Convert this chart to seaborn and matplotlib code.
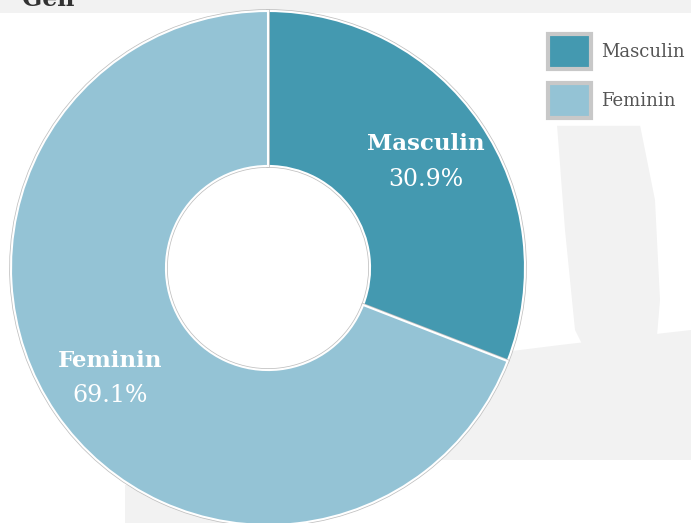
import matplotlib
matplotlib.use("Agg")
import matplotlib.pyplot as plt
import matplotlib.patheffects as pe
from matplotlib.patches import Patch, Polygon
import numpy as np
import seaborn as sns

sns.set_theme(style="white")
plt.rcParams['font.family'] = ['DejaVu Serif']

# data
categories = ['Masculin', 'Feminin']
shares = [30.9, 69.1]
colors = ['#4499b0', '#94c3d5']
title = 'Gen'

fig = plt.figure(figsize=(6.91, 5.23), dpi=100)
fig.patch.set_facecolor('white')

# faint watermark behind everything
def bg(pts):
    fig.patches.append(Polygon([[x/691, 1 - y/523] for x, y in pts], closed=True,
                               transform=fig.transFigure, facecolor='#f2f2f2',
                               edgecolor='none', zorder=-5))

bg([(0, 0), (691, 0), (691, 13), (0, 13)])
bg([(557, 125), (640, 125), (655, 200), (660, 300), (655, 360), (600, 380), (575, 330), (565, 230)])
bg([(400, 365), (560, 345), (691, 330), (691, 460), (400, 460)])
bg([(125, 485), (300, 485), (300, 523), (125, 523)])

# axes sized so radius 1 = 257 px, centre at (268, 268)
ax = fig.add_axes([11/691, -2/523, 514/691, 514/523])
ax.set_facecolor('none')

wedges, _ = ax.pie(shares, colors=colors, startangle=90, counterclock=False,
                   radius=1, wedgeprops=dict(width=0.603, edgecolor='white', linewidth=1.5))
for w in wedges:
    w.set_path_effects([pe.Stroke(linewidth=2.6, foreground='#c0c0c0'), pe.Normal()])
ax.set_xlim(-1, 1)
ax.set_ylim(-1, 1)
ax.set_aspect('equal')
ax.axis('off')

# labels inside the ring
for w, name, val in zip(wedges, categories, shares):
    ang = np.deg2rad((w.theta1 + w.theta2) / 2)
    x, y = 0.745 * np.cos(ang), 0.745 * np.sin(ang)
    ax.text(x, y + 0.06, name, ha='center', va='center', color='white',
            fontsize=16.5, fontweight='bold')
    ax.text(x, y - 0.075, f'{val}%', ha='center', va='center', color='white', fontsize=17)

# legend
handles = [Patch(facecolor=c, edgecolor='#c8c8c8', linewidth=3) for c in colors]
leg = fig.legend(handles, categories, loc='upper left', bbox_to_anchor=(540/691, 1 - 26/523),
                 fontsize=13, handlelength=2.4, handleheight=2.6, handletextpad=0.55,
                 labelspacing=0.75, frameon=True, borderpad=0.45, borderaxespad=0)
leg.get_frame().set_facecolor('white')
leg.get_frame().set_edgecolor('none')
for t in leg.get_texts():
    t.set_color('#555555')

fig.text(22/691, 1 - 6/523, title, fontsize=17, fontweight='bold', color='#333333',
         va='baseline', ha='left')

fig.savefig('out.png', dpi=100)
